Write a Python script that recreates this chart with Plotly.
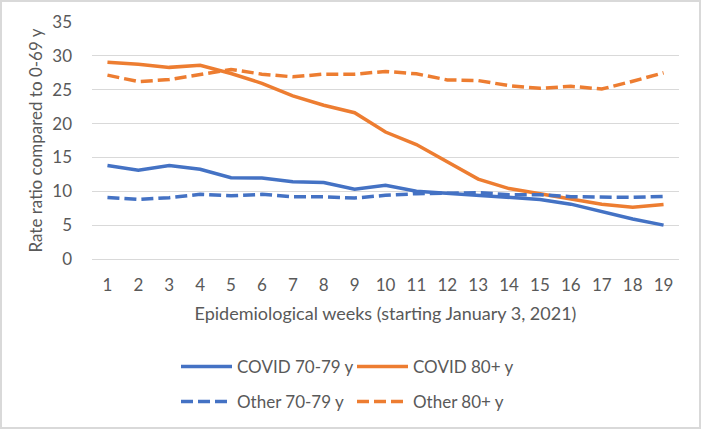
import plotly.graph_objects as go

weeks = list(range(1, 20))
covid_70_79 = [13.8, 13.1, 13.8, 13.25, 12.0, 11.95, 11.4, 11.3, 10.3, 10.9, 10.0, 9.7, 9.45, 9.05, 8.8, 8.1, 7.0, 5.9, 5.0]
covid_80p = [29.05, 28.75, 28.3, 28.6, 27.4, 25.95, 24.1, 22.7, 21.6, 18.75, 16.9, 14.4, 11.8, 10.4, 9.6, 8.85, 8.1, 7.65, 8.05]
other_70_79 = [9.1, 8.8, 9.05, 9.55, 9.35, 9.55, 9.2, 9.2, 9.0, 9.4, 9.65, 9.7, 9.8, 9.5, 9.5, 9.2, 9.15, 9.1, 9.25]
other_80p = [27.15, 26.2, 26.5, 27.25, 28.0, 27.3, 26.9, 27.3, 27.3, 27.7, 27.35, 26.45, 26.35, 25.6, 25.2, 25.5, 25.1, 26.25, 27.5]
y_ticks = [0, 5, 10, 15, 20, 25, 30, 35]

BLUE = "#4472C4"
ORANGE = "#ED7D31"
TEXT = "#595959"
GRID = "#D9D9D9"
FONT = "Lato, sans-serif"

fig = go.Figure()
lw = 3.5
DASH = "12px,5px"
fig.add_trace(go.Scatter(x=weeks, y=covid_70_79, mode="lines", name="COVID 70-79 y",
                         line=dict(color=BLUE, width=lw), legend="legend"))
fig.add_trace(go.Scatter(x=weeks, y=covid_80p, mode="lines", name="COVID 80+ y",
                         line=dict(color=ORANGE, width=lw), legend="legend"))
fig.add_trace(go.Scatter(x=weeks, y=other_70_79, mode="lines", name="Other 70-79 y",
                         line=dict(color=BLUE, width=lw, dash=DASH), legend="legend2"))
fig.add_trace(go.Scatter(x=weeks, y=other_80p, mode="lines", name="Other 80+ y",
                         line=dict(color=ORANGE, width=lw, dash=DASH), legend="legend2"))

W, H = 701, 429
L, R, T, B = 92, 22, 22, 170
pw = W - L - R
ph = H - T - B

def px_to_paper_x(px):
    return (px - L) / pw

def px_to_paper_y(py):
    return (H - B - py) / ph

legend_common = dict(orientation="h", xanchor="left", yanchor="middle",
                     font=dict(family=FONT, size=17, color=TEXT),
                     entrywidth=110, entrywidthmode="pixels", itemwidth=51,
                     bgcolor="rgba(0,0,0,0)", tracegroupgap=0)

fig.update_layout(
    width=W, height=H,
    margin=dict(l=L, r=R, t=T, b=B, pad=0, autoexpand=False),
    paper_bgcolor="white", plot_bgcolor="white",
    font=dict(family=FONT, size=17, color=TEXT),
    showlegend=True,
    legend=dict(x=px_to_paper_x(176), y=px_to_paper_y(367), **legend_common),
    legend2=dict(x=px_to_paper_x(176), y=px_to_paper_y(402), **legend_common),
    xaxis=dict(range=[0.5, 19.5], tickmode="array", tickvals=weeks,
               ticktext=[str(w) for w in weeks], showgrid=False, zeroline=False,
               showline=True, linecolor=GRID, linewidth=1, ticks="",
               ticklabelstandoff=11,
               tickfont=dict(family=FONT, size=17, color=TEXT),
               title=dict(text="Epidemiological weeks (starting January 3, 2021)",
                          font=dict(family=FONT, size=18, color=TEXT), standoff=12)),
    yaxis=dict(range=[0, 35], tickmode="array", tickvals=y_ticks,
               showgrid=True, gridcolor=GRID, gridwidth=1, zeroline=False,
               showline=False, ticks="", ticklabelstandoff=19,
               tickfont=dict(family=FONT, size=17, color=TEXT),
               title=dict(text="Rate ratio compared to 0-69 y",
                          font=dict(family=FONT, size=17, color=TEXT), standoff=5)),
    shapes=[dict(type="rect", xref="paper", yref="paper",
                 x0=px_to_paper_x(1), x1=px_to_paper_x(W - 1),
                 y0=px_to_paper_y(H - 1), y1=px_to_paper_y(1),
                 line=dict(color=GRID, width=2), layer="below")],
)

fig.write_html("out.html", config={"displayModeBar": False},
               post_script="document.body.style.margin='0px';")
